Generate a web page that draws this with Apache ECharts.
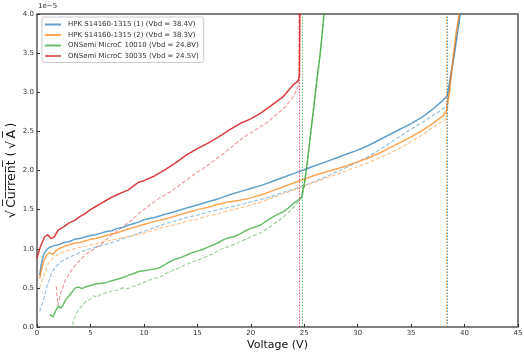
<!DOCTYPE html>
<html><head><meta charset="utf-8">
<script src="https://cdn.jsdelivr.net/npm/echarts@6/dist/echarts.min.js"></script>
<style>html,body{margin:0;padding:0;background:#fff}#c{width:524px;height:352px}</style>
</head><body><div id="c"></div>
<script>
// Legend names
const seriesNames = ['HPK S14160-1315 (1) (Vbd = 38.4V)','HPK S14160-1315 (2) (Vbd = 38.3V)','ONSemi MicroC 10010 (Vbd = 24.8V)','ONSemi MicroC 30035 (Vbd = 24.5V)'];
const vbd = [38.4, 38.3, 24.8, 24.5];
const xTicks = [0,5,10,15,20,25,30,35,40,45];
const yTicks = [0,0.5,1,1.5,2,2.5,3,3.5,4];

// HPK (1) solid
const hpk1V = [0.25,0.4,0.6,0.9,1.2,1.6,2.0,2.5,3,3.5,4,4.5,5,5.5,6,6.5,7,7.5,8,8.5,9,9.5,10,11,12,13,14,15,16,17,18,19,20,21,22,23,24,25,26,27,28,29,30,31,32,33,34,35,36,37,38,38.4,38.7,39.0,39.3,39.6,39.8];
const hpk1I = [0.66,0.80,0.92,0.99,1.02,1.04,1.05,1.08,1.09,1.12,1.13,1.15,1.17,1.18,1.20,1.22,1.23,1.26,1.27,1.30,1.32,1.34,1.37,1.40,1.44,1.48,1.52,1.56,1.60,1.64,1.69,1.73,1.77,1.81,1.86,1.91,1.96,2.01,2.06,2.11,2.16,2.21,2.26,2.32,2.39,2.46,2.53,2.60,2.68,2.78,2.90,2.96,3.22,3.45,3.72,4.0,4.2];
// HPK (1) dashed
const hpk1dV = [0.25,0.6,1.0,1.4,1.8,2.3,3,3.5,4,4.5,5,5.5,6,6.5,7,7.5,8,8.5,9,9.5,10,11,12,13,14,15,16,17,18,19,20,21,22,23,24,25,26,27,28,29,30,31,32,33,34,35,36,37,38,38.4,38.7,39.0,39.3,39.55,39.7];
const hpk1dI = [0.20,0.35,0.55,0.70,0.78,0.84,0.89,0.92,0.95,0.98,1.00,1.02,1.04,1.06,1.08,1.10,1.13,1.15,1.17,1.20,1.22,1.27,1.32,1.36,1.40,1.43,1.47,1.50,1.53,1.56,1.60,1.63,1.67,1.72,1.76,1.81,1.86,1.92,1.98,2.04,2.11,2.18,2.26,2.35,2.44,2.53,2.61,2.70,2.79,2.84,3.15,3.45,3.75,4.0,4.2];
// HPK (2) solid
const hpk2V = [0.25,0.4,0.6,0.9,1.2,1.5,1.8,2.2,2.6,3,3.5,4,4.5,5,5.5,6,6.5,7,7.5,8,8.5,9,9.5,10,11,12,13,14,15,16,17,18,19,20,21,22,23,24,25,26,27,28,29,30,31,32,33,34,35,36,37,38,38.3,38.6,38.9,39.2,39.5,39.7];
const hpk2I = [0.62,0.72,0.83,0.92,0.95,0.93,0.98,1.01,1.03,1.05,1.07,1.08,1.10,1.12,1.13,1.15,1.17,1.19,1.20,1.23,1.25,1.27,1.29,1.31,1.35,1.38,1.42,1.46,1.50,1.53,1.57,1.60,1.62,1.65,1.69,1.74,1.79,1.84,1.89,1.94,1.98,2.02,2.06,2.11,2.16,2.22,2.29,2.36,2.43,2.51,2.60,2.70,2.76,3.03,3.41,3.75,4.0,4.2];
// HPK (2) dashed
const hpk2dV = [0.25,0.5,0.8,1.1,1.5,2,2.5,3,3.5,4,4.5,5,5.5,6,7,8,9,10,11,12,13,14,15,16,17,18,19,20,21,22,23,24,25,26,27,28,29,30,31,32,33,34,35,36,37,38,38.3,38.6,38.9,39.2,39.5,39.7];
const hpk2dI = [0.50,0.60,0.72,0.82,0.88,0.93,0.96,0.98,1.00,1.02,1.03,1.05,1.06,1.08,1.11,1.14,1.17,1.20,1.24,1.28,1.31,1.35,1.38,1.42,1.45,1.49,1.52,1.56,1.60,1.65,1.70,1.75,1.80,1.85,1.90,1.95,2.00,2.05,2.10,2.16,2.22,2.29,2.37,2.45,2.55,2.63,2.66,3.00,3.35,3.70,4.0,4.2];
// ONSemi 10010 solid
const on1V = [1.2,1.5,1.8,2.0,2.2,2.4,2.7,3.0,3.3,3.6,3.9,4.2,4.5,5.0,5.5,6.0,6.5,7.0,7.5,8.0,8.5,9.0,9.5,10,10.5,11,11.5,12,12.5,13,13.5,14,14.5,15,15.5,16,16.5,17,17.5,18,18.5,19,19.5,20,20.5,21,21.5,22,22.5,23,23.5,24,24.4,24.75,25.0,25.3,25.6,25.9,26.2,26.5,26.85,27.0];
const on1I = [0.16,0.13,0.22,0.27,0.24,0.27,0.35,0.40,0.45,0.50,0.51,0.49,0.51,0.53,0.55,0.56,0.57,0.59,0.61,0.63,0.66,0.68,0.71,0.72,0.73,0.74,0.76,0.80,0.84,0.87,0.89,0.92,0.95,0.97,0.99,1.02,1.05,1.08,1.12,1.14,1.16,1.19,1.23,1.26,1.28,1.31,1.36,1.40,1.44,1.47,1.52,1.58,1.62,1.66,1.82,2.12,2.48,2.82,3.18,3.50,4.0,4.2];
// ONSemi 10010 dashed
const on1dV = [3.3,3.4,3.6,3.8,4.0,4.3,4.6,5.0,5.3,5.6,6.0,6.5,7.0,7.5,8.0,8.5,9.0,9.5,10,10.5,11,11.5,12,12.5,13,13.5,14,14.5,15,15.5,16,16.5,17,17.5,18,18.5,19,19.5,20,20.5,21,21.5,22,22.5,23,23.5,24,24.5,24.8,25.0,25.3,25.6,25.9,26.2,26.5,26.85,27.0];
const on1dI = [-0.05,0.08,0.15,0.20,0.24,0.28,0.33,0.36,0.40,0.38,0.42,0.44,0.46,0.47,0.50,0.49,0.52,0.54,0.57,0.60,0.62,0.64,0.68,0.71,0.74,0.77,0.80,0.83,0.85,0.88,0.91,0.94,0.98,1.01,1.03,1.06,1.09,1.12,1.15,1.18,1.21,1.25,1.30,1.35,1.40,1.46,1.53,1.61,1.66,1.80,2.10,2.46,2.80,3.16,3.48,3.98,4.2];
// ONSemi 30035 solid
const on3V = [0,0.3,0.7,1.0,1.3,1.6,2.0,2.5,3.0,3.5,4.0,4.5,5.0,5.5,6.0,6.5,7.0,7.5,8.0,8.5,9.0,9.5,10,11,12,13,14,15,16,17,18,19,20,21,22,23,24,24.4,24.55,24.62];
const on3I = [0.88,1.02,1.15,1.18,1.13,1.15,1.24,1.28,1.33,1.36,1.41,1.45,1.50,1.54,1.58,1.62,1.66,1.69,1.72,1.75,1.80,1.85,1.87,1.93,2.01,2.10,2.20,2.28,2.35,2.43,2.52,2.60,2.66,2.74,2.84,2.94,3.10,3.14,3.20,4.5];
// ONSemi 30035 dashed
const on3dV = [1.8,1.95,2.2,2.6,3.0,3.5,4.0,4.5,5.0,5.5,6.0,6.5,7.0,7.5,8.0,8.5,9.0,9.5,10,10.5,11,11.5,12,12.5,13,13.5,14,14.5,15,15.5,16,16.5,17,17.5,18,18.5,19,19.5,20,20.5,21,21.5,22,22.5,23,23.5,24,24.5,24.52];
const on3dI = [0.52,0.28,0.42,0.58,0.68,0.78,0.85,0.92,0.97,1.01,1.06,1.12,1.18,1.23,1.28,1.33,1.38,1.45,1.50,1.55,1.60,1.65,1.69,1.73,1.78,1.83,1.88,1.93,1.98,2.02,2.07,2.12,2.17,2.22,2.28,2.33,2.39,2.44,2.48,2.52,2.57,2.61,2.67,2.73,2.78,2.86,2.95,3.09,4.5];

const colors = ['#1f77b4','#ff7f0e','#2ca02c','#d62728'];
const zip = (a,b) => a.map((v,i)=>[v,b[i]]);
const solid = [[hpk1V,hpk1I],[hpk2V,hpk2I],[on1V,on1I],[on3V,on3I]];
const dashed = [[hpk1dV,hpk1dI],[hpk2dV,hpk2dI],[on1dV,on1dI],[on3dV,on3dI]];

const series = [];
dashed.forEach((d,i)=>{
  series.push({type:'line', name:'d'+i, data:zip(d[0],d[1]), showSymbol:false, clip:true, silent:true,
    lineStyle:{color:colors[i], width:1.2, type:[4,2], opacity:0.45}, itemStyle:{color:colors[i]}, z:2});
});
solid.forEach((d,i)=>{
  series.push({type:'line', name:seriesNames[i], data:zip(d[0],d[1]), showSymbol:false, clip:true,
    lineStyle:{color:colors[i], width:1.5, opacity:i===3?0.9:0.7}, itemStyle:{color:colors[i], opacity:0.7}, z:3,
    markLine:{silent:true, symbol:['none','none'], label:{show:false},
      lineStyle:{color:colors[i], type:[1.5,1.5], width:1, opacity:0.7},
      data:[{xAxis:vbd[i]}]}});
});

const chart = echarts.init(document.getElementById('c'), null, {renderer:'canvas'});
const font = 'DejaVu Sans';
chart.setOption({
  animation:false,
  backgroundColor:'#fff',
  grid:{left:37, right:6, top:14, bottom:25, outerBoundsMode:'none', containLabel:false, show:true, borderColor:'#555', borderWidth:1.5, backgroundColor:'transparent'},
  xAxis:{type:'value', min:0, max:45, interval:5,
    name:'Voltage (V)', nameLocation:'middle', nameGap:13, nameMoveOverlap:false, nameTextStyle:{fontFamily:font, fontSize:11, color:'#111'},
    axisLine:{show:false}, splitLine:{show:false},
    axisTick:{inside:true, length:3, lineStyle:{color:'#333'}},
    axisLabel:{fontFamily:font, fontSize:7, color:'#333', margin:3, formatter:v=>xTicks.includes(v)?String(v):''}},
  yAxis:{type:'value', min:0, max:4, interval:0.5,
    name:'√\u2009C\u0305u\u0305r\u0305r\u0305e\u0305n\u0305t\u0305 (\u2009√\u2009A\u0305\u2009)', nameLocation:'middle', nameGap:19, nameMoveOverlap:false, nameRotate:90,
    nameTextStyle:{fontFamily:font, fontSize:12.5, color:'#111'},
    axisLine:{show:false}, splitLine:{show:false},
    axisTick:{inside:true, length:3, lineStyle:{color:'#333'}},
    axisLabel:{fontFamily:font, fontSize:7, color:'#333', margin:3, formatter:v=>yTicks.includes(v)?v.toFixed(1):''}},
  legend:{data:seriesNames, orient:'vertical', left:42, top:17, icon:'rect', itemWidth:16, itemHeight:2, itemGap:3.5,
    backgroundColor:'rgba(255,255,255,0.85)', borderColor:'#ccc', borderWidth:1, borderRadius:2, padding:[4,5,3,3],
    textStyle:{fontFamily:font, fontSize:7, color:'#333', padding:[0,0,0,2]}},
  graphic:[{type:'text', left:38, top:3, style:{text:'1e\u22125', font:'7px DejaVu Sans', fill:'#333'}}],
  series:series
});
</script></body></html>
